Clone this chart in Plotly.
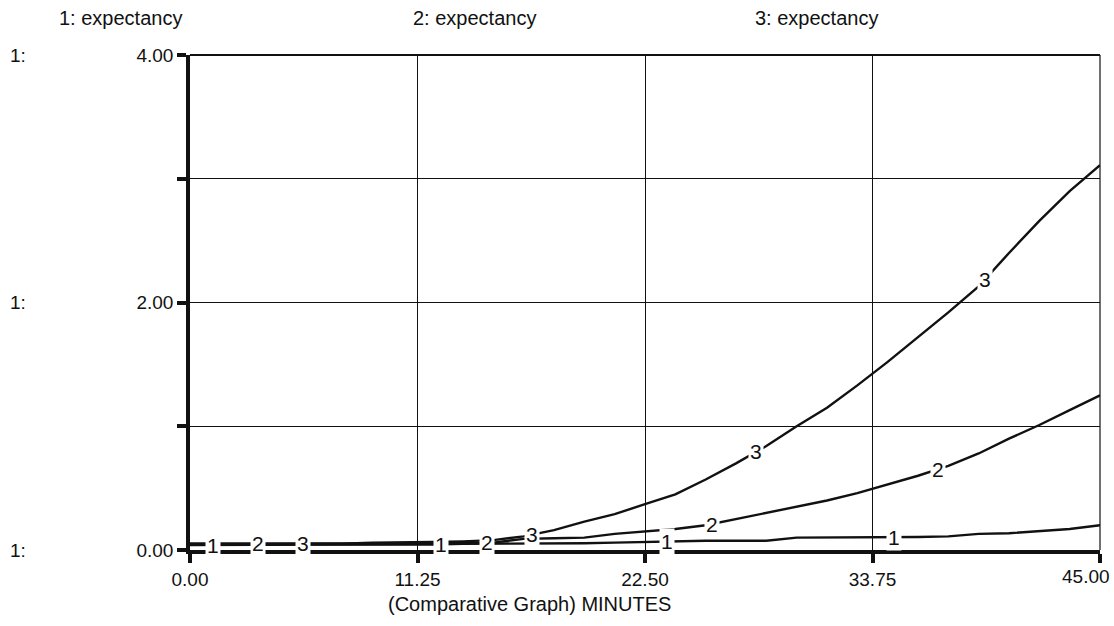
import numpy as np
import plotly.graph_objects as go

# Simulation time (minutes) and the three "expectancy" runs
minutes = [0, 1.5, 3, 4.5, 6, 7.5, 9, 10.5, 12, 13.5, 15, 16.5, 18, 19.5, 21, 22.5,
           24, 25.5, 27, 28.5, 30, 31.5, 33, 34.5, 36, 37.5, 39, 40.5, 42, 43.5, 45]

expectancy_1 = [0.04, 0.04, 0.04, 0.04, 0.04, 0.04, 0.045, 0.045, 0.045, 0.05, 0.05,
                0.05, 0.055, 0.055, 0.06, 0.065, 0.075, 0.075, 0.075, 0.075, 0.10,
                0.10, 0.10, 0.10, 0.105, 0.11, 0.13, 0.135, 0.15, 0.17, 0.20]

expectancy_2 = [0.05, 0.05, 0.05, 0.05, 0.05, 0.05, 0.05, 0.055, 0.055, 0.055, 0.06,
                0.09, 0.095, 0.10, 0.13, 0.15, 0.17, 0.20, 0.25, 0.30, 0.35, 0.40,
                0.46, 0.53, 0.60, 0.68, 0.78, 0.90, 1.01, 1.13, 1.25]

expectancy_3 = [0.05, 0.05, 0.05, 0.05, 0.05, 0.05, 0.06, 0.06, 0.065, 0.07, 0.08,
                0.11, 0.16, 0.23, 0.29, 0.37, 0.45, 0.57, 0.70, 0.84, 1.00, 1.15,
                1.33, 1.52, 1.72, 1.92, 2.13, 2.40, 2.66, 2.90, 3.11]

series_names = ["1", "2", "3"]
header_text = ["1: expectancy", "2: expectancy", "3: expectancy"]

# Where each run's identifying number is written along its curve (minutes)
label_minutes = [
    [1.14, 12.4, 23.6, 34.8],
    [3.36, 14.7, 25.8, 37.0],
    [5.6, 16.9, 28.0, 39.3],
]

x_ticks = [0, 11.25, 22.5, 33.75, 45]
x_tick_text = ["0.00", "11.25", "22.50", "33.75", "45.00"]
y_ticks = [0, 1, 2, 3, 4]
y_tick_text = ["0.00", "", "2.00", "", "4.00"]

FONT = "Liberation Sans, Arial, Helvetica, sans-serif"
INK = "#111111"

fig = go.Figure()
all_series = [expectancy_1, expectancy_2, expectancy_3]
for name, values in zip(series_names, all_series):
    fig.add_trace(go.Scatter(
        x=minutes, y=values, mode="lines", name=name,
        line=dict(color=INK, width=2.4), showlegend=False, hoverinfo="skip",
    ))

annotations = []
# Curve numbers drawn on the lines, blanking the line beneath them
for name, values, spots in zip(series_names, all_series, label_minutes):
    for m in spots:
        annotations.append(dict(
            x=m, y=float(np.interp(m, minutes, values)), xref="x", yref="y",
            text=name, showarrow=False, bgcolor="white", borderpad=1,
            font=dict(family=FONT, size=21, color=INK),
        ))

# Headers naming each run
header_x = [-0.076, 0.313, 0.688]
for txt, hx in zip(header_text, header_x):
    annotations.append(dict(
        x=hx, y=1.0747, xref="paper", yref="paper", text=txt, showarrow=False,
        xanchor="center", yanchor="middle", font=dict(family=FONT, size=20, color=INK),
    ))

# Scale owner markers at the far left
for py in [1.0, 0.5, 0.0]:
    annotations.append(dict(
        x=-0.2, y=py, xref="paper", yref="paper", text="1:", showarrow=False,
        xanchor="left", yanchor="middle", font=dict(family=FONT, size=19, color=INK),
    ))

annotations.append(dict(
    x=0.3736, y=-0.109, xref="paper", yref="paper",
    text="(Comparative Graph) MINUTES", showarrow=False,
    xanchor="center", yanchor="middle", font=dict(family=FONT, size=20, color=INK),
))

# The last time label sits pulled in from the right edge so it stays on the page
annotations.append(dict(
    x=x_ticks[-1], y=0, xref="x", yref="paper", text=x_tick_text[-1],
    showarrow=False, xanchor="right", yanchor="top", xshift=12, yshift=-14,
    font=dict(family=FONT, size=19, color=INK),
))
axis_tick_text = x_tick_text[:-1] + [""]

fig.update_layout(
    width=1114, height=626,
    margin=dict(l=190, r=14, t=55, b=76),
    paper_bgcolor="white", plot_bgcolor="white",
    annotations=annotations,
    shapes=[
        # top and right frame edges
        dict(type="line", xref="paper", yref="paper", x0=0, x1=1, y0=1, y1=1,
             line=dict(color=INK, width=2)),
        dict(type="line", xref="paper", yref="paper", x0=1, x1=1, y0=0, y1=1,
             line=dict(color=INK, width=1.2)),
    ],
)

fig.update_xaxes(
    range=[0, 45], tickvals=x_ticks, ticktext=axis_tick_text,
    showgrid=True, gridcolor=INK, gridwidth=1, zeroline=False,
    showline=True, linecolor=INK, linewidth=4,
    ticks="outside", ticklen=9, tickwidth=4, tickcolor=INK,
    ticklabeloverflow="allow", automargin=False,
    tickfont=dict(family=FONT, size=19, color=INK),
)
fig.update_yaxes(
    range=[0, 4], tickvals=y_ticks, ticktext=y_tick_text,
    showgrid=True, gridcolor=INK, gridwidth=1, zeroline=False,
    showline=True, linecolor=INK, linewidth=3.5,
    ticks="outside", ticklen=9, tickwidth=4, tickcolor=INK,
    ticklabeloverflow="allow", automargin=False,
    tickfont=dict(family=FONT, size=19, color=INK),
)

fig.write_html("out.html")
